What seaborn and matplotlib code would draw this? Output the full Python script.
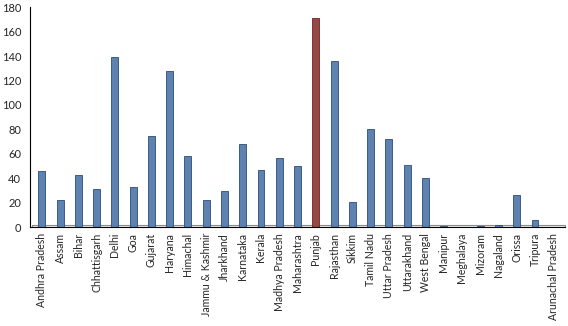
import matplotlib
matplotlib.use("Agg")
import matplotlib.pyplot as plt
import seaborn as sns
import pandas as pd
import numpy as np

states = ["Andhra Pradesh", "Assam", "Bihar", "Chhattisgarh", "Delhi", "Goa", "Gujarat",
          "Haryana", "Himachal", "Jammu & Kashmir", "Jharkhand", "Karnataka", "Kerala",
          "Madhya Pradesh", "Maharashtra", "Punjab", "Rajasthan", "Sikkim", "Tamil Nadu",
          "Uttar Pradesh", "Uttarakhand", "West Bengal", "Manipur", "Meghalaya", "Mizoram",
          "Nagaland", "Orissa", "Tripura", "Arunachal Pradesh"]
values = [46, 22, 43, 31, 139, 33, 75, 128, 58, 22, 30, 68, 47, 57, 50, 171, 136, 21, 80,
          72, 51, 40, 1, 0.5, 1, 2, 26, 6, 0.5]
highlight = "Punjab"
y_ticks = [0, 20, 40, 60, 80, 100, 120, 140, 160, 180]

sns.set_theme(style="white")
plt.rcParams['font.family'] = ['Lato', 'DejaVu Sans']

df = pd.DataFrame({"state": states, "value": values})
df["group"] = np.where(df["state"] == highlight, "hl", "base")

fig, ax = plt.subplots(figsize=(5.68, 3.26), dpi=100)
fig.subplots_adjust(left=0.052, right=0.995, top=0.978, bottom=0.303)

sns.barplot(data=df, x="state", y="value", hue="group",
            palette={"base": "#4F81BD", "hl": "#A33B38"}, dodge=False,
            width=0.38, legend=False, ax=ax, edgecolor="#2C4D75", linewidth=0.6,
            order=states)
for p in ax.patches:
    if p.get_facecolor()[0] > 0.5:
        p.set_edgecolor("#6E2220")

n = len(states)
ax.set_xlim(-0.67, n - 1 + 0.65)
ax.set_ylim(0, 180)
ax.set_yticks(y_ticks)
ax.set_yticklabels([str(t) for t in y_ticks], fontsize=8)

# floor plate
ax.fill_between([-0.55, n - 1 + 0.65], 0, 2.2, color="#F0F0F0", zorder=0.5,
                edgecolor="#8C8C8C", linewidth=0.8)

ax.set_xticks(range(n))
ax.set_xticklabels(states, rotation=90, fontsize=7.6)
ax.set_xticks(np.arange(-0.5, n, 1), minor=True)
ax.tick_params(axis="x", which="major", length=0, pad=4)
ax.tick_params(axis="x", which="minor", length=4, width=0.8, color="black", direction="out")
ax.tick_params(axis="y", length=4, width=0.8, color="black", direction="out", pad=2)
ax.set_xlabel("")
ax.set_ylabel("")
for s in ["top", "right"]:
    ax.spines[s].set_visible(False)
for s in ["left", "bottom"]:
    ax.spines[s].set_color("black")
    ax.spines[s].set_linewidth(0.8)

fig.savefig("out.png", dpi=100)
